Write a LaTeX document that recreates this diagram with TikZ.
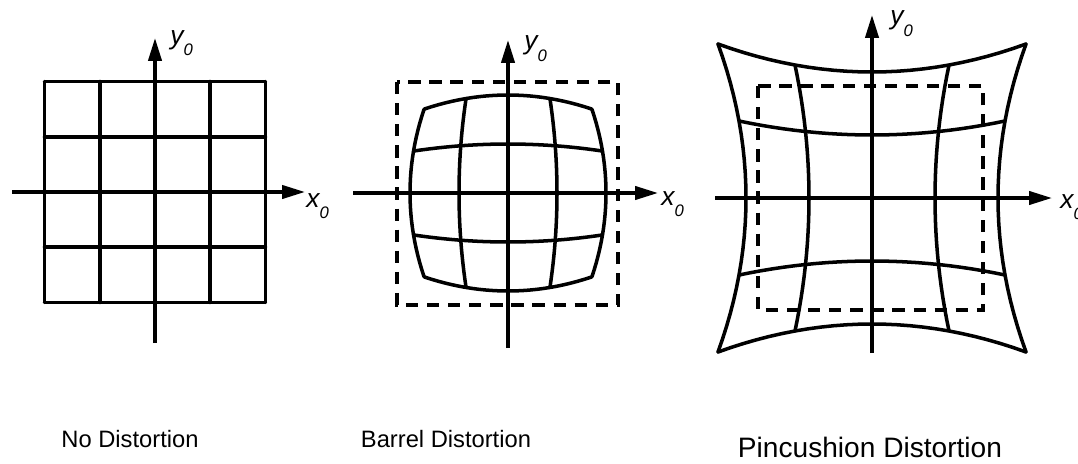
\documentclass[tikz,border=0pt]{standalone}
\usepackage{fontspec}
\setmainfont{Liberation Sans}
\usepackage{tikz}
\usetikzlibrary{arrows.meta, positioning}
\newcommand{\axsub}{\raisebox{-6.3pt}{\fontsize{9.5}{10}\selectfont 0}}

\begin{document}
\begin{tikzpicture}[
    x=0.02cm, y=-0.02cm,
    >={Triangle[length=13pt, width=7.5pt]},
    axis/.style={->, line width=1.9pt},
    gline/.style={line width=2pt, line cap=round, line join=round},
    frame/.style={line width=1.9pt, dash pattern=on 7pt off 5pt},
    lbl/.style={font=\fontsize{13.5}{16}\selectfont, anchor=base, inner sep=0pt},
    alab/.style={font=\fontsize{15}{18}\selectfont\itshape, anchor=base west, inner sep=0pt},
]
\useasboundingbox (0,0) rectangle (1078,463);
% === Grids: none, barrel, pincushion ===
\foreach \cx/\cy/\s/\k in {155/192/55.25/0, 508/193/49/0.036, 872/198/63/-0.0556} {
    \begin{scope}[shift={(\cx,\cy)}]
        \foreach \v in {-2,...,2} {
            \draw[gline] plot[domain=-2:2, samples=25, variable=\u]
                ({\s*\u*(1-(\k)*(\v)*(\v))}, {\s*(\v)*(1-(\k)*\u*\u)});
            \draw[gline] plot[domain=-2:2, samples=25, variable=\u]
                ({\s*(\v)*(1-(\k)*\u*\u)}, {\s*\u*(1-(\k)*(\v)*(\v))});
        }
    \end{scope}
}
% === Dashed frames ===
\draw[frame] (397,82) rectangle (618,305);
\draw[frame] (758,86) rectangle (983,310);
% === Axes ===
\coordinate (x1a) at (12,192);  \coordinate (x1b) at (305,192);
\coordinate (y1a) at (155,343); \coordinate (y1b) at (155,38);
\coordinate (x2a) at (353,193); \coordinate (x2b) at (658,193);
\coordinate (y2a) at (508,348); \coordinate (y2b) at (508,40);
\coordinate (x3a) at (715,198); \coordinate (x3b) at (1052,198);
\coordinate (y3a) at (872,353); \coordinate (y3b) at (872,15);
\foreach \i in {1,2,3} {
    \draw[axis] (x\i a) -- (x\i b);
    \draw[axis] (y\i a) -- (y\i b);
}
% axis labels
\node[alab] (xl1) at (306,207) {x\axsub};
\node[alab] (yl1) at (170,44) {y\axsub};
\node[alab] (xl2) at (661,205) {x\axsub};
\node[alab] (yl2) at (524,50) {y\axsub};
\node[alab] (xl3) at (1060,208) {x\axsub};
\node[alab] (yl3) at (890,25) {y\axsub};
% === Titles ===
\node[lbl] (t1) at (130,447) {No Distortion};
\node[lbl] (t2) at (446,447) {Barrel Distortion};
\node[lbl, font=\fontsize{16}{19}\selectfont] (t3) at (870,457) {Pincushion Distortion};
\end{tikzpicture}
\end{document}
